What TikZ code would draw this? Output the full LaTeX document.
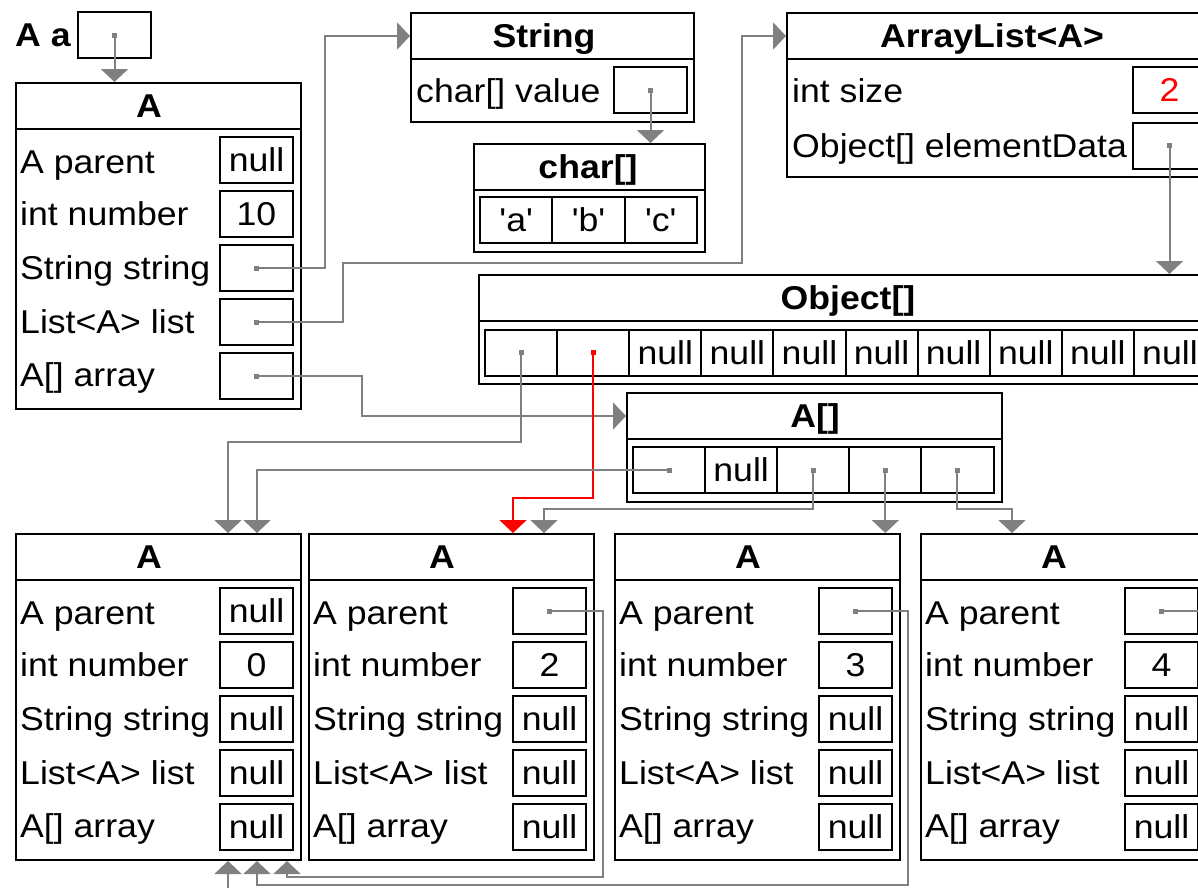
\documentclass[tikz,border=0pt]{standalone}
\usepackage{fontspec}
\setmainfont{Liberation Sans}[FakeStretch=1.08, Ligatures=TeXOff]
\usetikzlibrary{arrows.meta}
\definecolor{linkgray}{HTML}{808080}
\definecolor{linkred}{HTML}{FF0000}
\newcommand\diagfont{\fontsize{33}{39}\selectfont}
\tikzset{
  objbox/.style={draw=black, line width=2pt, inner sep=0pt, anchor=north west},
  hdrbox/.style={draw=black, line width=2pt, inner sep=0pt, anchor=north west, minimum height=46pt},
  valbox/.style={draw=black, line width=2pt, minimum width=73pt, minimum height=46pt, inner sep=0pt, font=\diagfont},
  cellbox/.style={draw=black, line width=2pt, minimum width=72.1pt, minimum height=46pt, inner sep=0pt, font=\diagfont},
  lbl/.style={anchor=base west, inner sep=0pt, font=\diagfont},
  ttl/.style={anchor=base, inner sep=0pt, font=\diagfont\bfseries},
  ptr/.style={fill=linkgray, draw=none, minimum size=5pt, inner sep=0pt},
  ptrred/.style={fill=linkred, draw=none, minimum size=5pt, inner sep=0pt},
  link/.style={draw=linkgray, line width=2pt, -{Triangle[width=27pt,length=13pt]}},
  linkr/.style={draw=linkred, line width=2pt, -{Triangle[width=27pt,length=13pt]}},
}
% A object: name, x, y, v1..v5
\newcommand\objA[8]{%
  \begin{scope}[shift={(#2,#3)}]
    \node[objbox, minimum width=285pt, minimum height=326pt] (#1) at (0,0) {};
    \node[hdrbox, minimum width=285pt] (#1-h) at (0,0) {};
    \node[ttl] (#1-t) at (134,35) {A};
    \node[lbl] (#1-l1) at (5,91) {A parent};
    \node[lbl] (#1-l2) at (5,143) {int number};
    \node[lbl] (#1-l3) at (5,197) {String string};
    \node[lbl] (#1-l4) at (5,251) {List<A> list};
    \node[lbl] (#1-l5) at (5,304) {A[] array};
    \node[valbox] (#1-v1) at (241.5,78) {#4};
    \node[valbox] (#1-v2) at (241.5,132) {#5};
    \node[valbox] (#1-v3) at (241.5,186) {#6};
    \node[valbox] (#1-v4) at (241.5,240) {#7};
    \node[valbox] (#1-v5) at (241.5,294) {#8};
  \end{scope}}
\begin{document}
\begin{tikzpicture}[x=1pt,y=-1pt]
\useasboundingbox (0,0) rectangle (1198,887);
\clip (0,0) rectangle (1198,887);

% variable a
\node[ttl, anchor=base west] (varl) at (15,46) {A a};
\node[valbox] (var) at (114.5,35) {};

% main A object
\objA{a}{15}{82}{null}{10}{}{}{}

% String
\node[objbox, minimum width=283pt, minimum height=109pt] (str) at (410,12) {};
\node[hdrbox, minimum width=283pt] (str-h) at (410,12) {};
\node[ttl] (str-t) at (544,47) {String};
\node[lbl] (str-l1) at (416,102) {char[] value};
\node[valbox] (str-v1) at (650.5,90) {};

% char[]
\node[objbox, minimum width=231pt, minimum height=108pt] (ch) at (473,143) {};
\node[hdrbox, minimum width=231pt] (ch-h) at (473,143) {};
\node[ttl] (ch-t) at (588,178) {char[]};
\node[cellbox, minimum width=72.3pt] (ch1) at (516.2,220) {'a'};
\node[cellbox, minimum width=72.3pt] (ch2) at (588.5,220) {'b'};
\node[cellbox, minimum width=72.3pt] (ch3) at (660.8,220) {'c'};

% ArrayList<A>
\node[objbox, minimum width=427pt, minimum height=164pt] (al) at (786,12) {};
\node[hdrbox, minimum width=427pt] (al-h) at (786,12) {};
\node[ttl] (al-t) at (992,47) {ArrayList<A>};
\node[lbl] (al-l1) at (792,102) {int size};
\node[lbl] (al-l2) at (792,157) {Object[] elementData};
\node[valbox, text=linkred] (al-v1) at (1169.5,89.5) {2};
\node[valbox] (al-v2) at (1169.5,145.5) {};

% Object[]
\node[objbox, minimum width=735pt, minimum height=109pt] (ob) at (478,274) {};
\node[hdrbox, minimum width=735pt] (ob-h) at (478,274) {};
\node[ttl] (ob-t) at (848,309) {Object[]};
\node[cellbox] (o1) at (521.05,352.5) {};
\node[cellbox] (o2) at (593.15,352.5) {};
\node[cellbox] (o3) at (665.25,352.5) {null};
\node[cellbox] (o4) at (737.35,352.5) {null};
\node[cellbox] (o5) at (809.45,352.5) {null};
\node[cellbox] (o6) at (881.55,352.5) {null};
\node[cellbox] (o7) at (953.65,352.5) {null};
\node[cellbox] (o8) at (1025.75,352.5) {null};
\node[cellbox] (o9) at (1097.85,352.5) {null};
\node[cellbox] (o10) at (1169.95,352.5) {null};

% A[]
\node[objbox, minimum width=375pt, minimum height=109pt] (aa) at (626,392) {};
\node[hdrbox, minimum width=375pt] (aa-h) at (626,392) {};
\node[ttl] (aa-t) at (815,427) {A[]};
\node[cellbox] (aa1) at (669.05,470) {};
\node[cellbox] (aa2) at (741.15,470) {null};
\node[cellbox] (aa3) at (813.25,470) {};
\node[cellbox] (aa4) at (885.35,470) {};
\node[cellbox] (aa5) at (957.45,470) {};

% bottom A objects
\objA{b1}{15}{533}{null}{0}{null}{null}{null}
\objA{b2}{308}{533}{}{2}{null}{null}{null}
\objA{b3}{614}{533}{}{3}{null}{null}{null}
\objA{b4}{920}{533}{}{4}{null}{null}{null}

% bend points
\coordinate (k1) at (228,442);
\coordinate (k2) at (513,498);
\coordinate (k3) at (257,470);
\coordinate (k4) at (544,509);
\coordinate (k5) at (1012,509);
\coordinate (k6) at (287,877);
\coordinate (k7) at (257,885);
\coordinate (k8) at (228,905);

% connectors
\draw[link] (var.center) -- (var.center |- a.north);
\draw[link] (a-v3.center) -| (325,150) |- (str-h.west);
\draw[link] (a-v4.center) -| (343,290) |- (742,263) |- (al-h.west);
\draw[link] (a-v5.center) -| (362,400) |- (aa-h.west);
\draw[link] (str-v1.center) -- (str-v1.center |- ch.north);
\draw[link] (al-v2.center) -- (al-v2.center |- ob.north);
\draw[link] (o1.center) |- (k1) -- (k1 |- b1.north);
\draw[linkr] (o2.center) |- (k2) -- (k2 |- b2.north);
\draw[link] (aa1.center) -- (k3) -- (k3 |- b1.north);
\draw[link] (aa3.center) |- (k4) -- (k4 |- b2.north);
\draw[link] (aa4.center) -- (aa4.center |- b3.north);
\draw[link] (aa5.center) |- (k5) -- (k5 |- b4.north);
\draw[link] (b2-v1.center) -| (603,800) |- (k6) -- (k6 |- b1.south);
\draw[link] (b3-v1.center) -| (908,800) |- (k7) -- (k7 |- b1.south);
\draw[link] (b4-v1.center) -| (1214,800) |- (k8) -- (k8 |- b1.south);

% pointer dots
\node[ptr] (dv) at (var.center) {};
\node[ptr] (d3) at (a-v3.center) {};
\node[ptr] (d4) at (a-v4.center) {};
\node[ptr] (d5) at (a-v5.center) {};
\node[ptr] (ds) at (str-v1.center) {};
\node[ptr] (dal) at (al-v2.center) {};
\node[ptr] (do1) at (o1.center) {};
\node[ptrred] (do2) at (o2.center) {};
\node[ptr] (da1) at (aa1.center) {};
\node[ptr] (da3) at (aa3.center) {};
\node[ptr] (da4) at (aa4.center) {};
\node[ptr] (da5) at (aa5.center) {};
\node[ptr] (db2) at (b2-v1.center) {};
\node[ptr] (db3) at (b3-v1.center) {};
\node[ptr] (db4) at (b4-v1.center) {};
\end{tikzpicture}
\end{document}
